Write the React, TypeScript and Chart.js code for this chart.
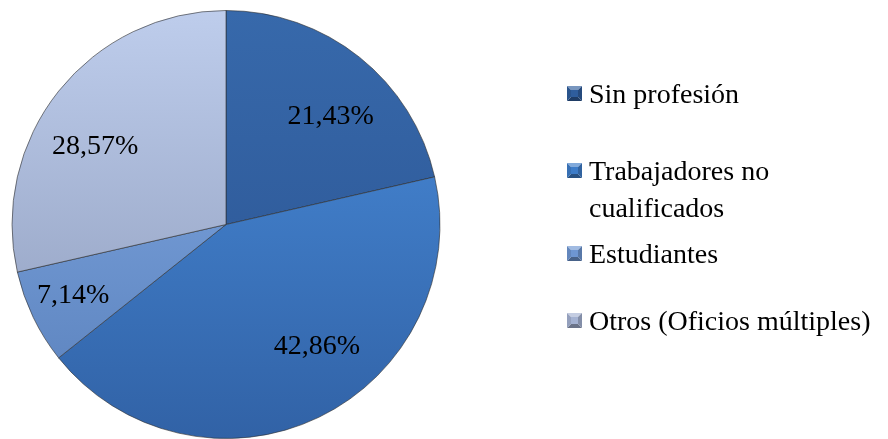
import React, { useEffect, useRef } from 'react';
import { Chart, registerables } from 'chart.js';

Chart.register(...registerables);

const categories = ['Sin profesión', 'Trabajadores no cualificados', 'Estudiantes', 'Otros (Oficios múltiples)'];
const values = [21.43, 42.86, 7.14, 28.57];
const valueLabels = ['21,43%', '42,86%', '7,14%', '28,57%'];

const colorTop = ['#3769AB', '#4A8EDD', '#86AEE8', '#BECDEC'];
const colorBottom = ['#2A5290', '#3162A6', '#587FBA', '#8A98B8'];
const colorMid = ['#2F5D9C', '#3D7CC8', '#6E96D2', '#A4B2D2'];

const FONT = '28px "Liberation Serif", "Times New Roman", serif';

// best-fit label nudges (px) relative to the mid-angle anchor
const labelNudge = [[10, 11], [25, -15], [-16, 5], [-12, 17]];

const sliceLabelPlugin = {
  id: 'sliceLabels',
  afterDatasetsDraw(chart: any) {
    const ctx = chart.ctx;
    const meta = chart.getDatasetMeta(0);
    ctx.save();
    ctx.font = FONT;
    ctx.fillStyle = '#000';
    ctx.textAlign = 'center';
    ctx.textBaseline = 'middle';
    meta.data.forEach((arc: any, i: number) => {
      const p = arc.getProps(['x', 'y', 'startAngle', 'endAngle', 'outerRadius'], true);
      const mid = (p.startAngle + p.endAngle) / 2;
      const r = p.outerRadius * 0.71;
      const n = labelNudge[i];
      ctx.fillText(valueLabels[i], p.x + Math.cos(mid) * r + n[0], p.y + Math.sin(mid) * r + n[1]);
    });
    ctx.restore();
  },
};

function wrap(ctx: CanvasRenderingContext2D, text: string, maxW: number): string[] {
  const words = text.split(' ');
  const lines: string[] = [];
  let cur = '';
  for (const w of words) {
    const test = cur ? cur + ' ' + w : w;
    if (ctx.measureText(test).width > maxW && cur) {
      lines.push(cur);
      cur = w;
    } else cur = test;
  }
  if (cur) lines.push(cur);
  return lines;
}

function shade(hex: string, amt: number): string {
  const n = parseInt(hex.slice(1), 16);
  let r = (n >> 16) & 255, g = (n >> 8) & 255, b = n & 255;
  const t = amt < 0 ? 0 : 255;
  const a = Math.abs(amt);
  r = Math.round(r + (t - r) * a);
  g = Math.round(g + (t - g) * a);
  b = Math.round(b + (t - b) * a);
  return `rgb(${r},${g},${b})`;
}

const legendPlugin = {
  id: 'customLegend',
  afterDraw(chart: any) {
    const ctx = chart.ctx;
    const baselines = [103, 180, 263, 330];
    const markerX = 567;
    const textX = 589;
    const lineH = 37;
    const s = 15;
    ctx.save();
    ctx.font = FONT;
    ctx.fillStyle = '#000';
    ctx.textAlign = 'left';
    ctx.textBaseline = 'alphabetic';
    categories.forEach((label, i) => {
      const base = baselines[i];
      const my = base - 17;
      const c = colorMid[i];
      const x0 = markerX, y0 = my, x1 = markerX + s, y1 = my + s;
      const b = 4;
      const poly = (pts: number[][], col: string) => {
        ctx.beginPath();
        ctx.moveTo(pts[0][0], pts[0][1]);
        for (let k = 1; k < pts.length; k++) ctx.lineTo(pts[k][0], pts[k][1]);
        ctx.closePath();
        ctx.fillStyle = col;
        ctx.fill();
      };
      poly([[x0, y0], [x1, y0], [x1 - b, y0 + b], [x0 + b, y0 + b]], shade(c, 0.35));
      poly([[x0, y1], [x1, y1], [x1 - b, y1 - b], [x0 + b, y1 - b]], shade(c, -0.35));
      poly([[x0, y0], [x0 + b, y0 + b], [x0 + b, y1 - b], [x0, y1]], shade(c, -0.1));
      poly([[x1, y0], [x1 - b, y0 + b], [x1 - b, y1 - b], [x1, y1]], shade(c, -0.2));
      ctx.fillStyle = c;
      ctx.fillRect(x0 + b, y0 + b, s - 2 * b, s - 2 * b);
      ctx.fillStyle = '#000';
      const lines = wrap(ctx, label, 295);
      lines.forEach((ln, k) => ctx.fillText(ln, textX, base + k * lineH));
    });
    ctx.restore();
  },
};

export default function App() {
  const ref = useRef<HTMLCanvasElement>(null);
  useEffect(() => {
    document.body.style.margin = '0';
    const canvas = ref.current!;
    const chart = new Chart(canvas, {
      type: 'pie',
      data: {
        labels: categories,
        datasets: [
          {
            data: values,
            backgroundColor: (c: any) => {
              const area = c.chart.chartArea;
              const i = c.dataIndex;
              if (!area) return colorMid[i];
              const g = c.chart.ctx.createLinearGradient(0, area.top, 0, area.bottom);
              g.addColorStop(0, colorTop[i]);
              g.addColorStop(1, colorBottom[i]);
              return g;
            },
            borderColor: 'rgba(45,45,45,0.6)',
            borderWidth: 1,
          },
        ],
      },
      options: {
        responsive: false,
        animation: false,
        devicePixelRatio: 1,
        layout: { padding: { left: 11, right: 447, top: 10, bottom: -2 } },
        plugins: {
          legend: { display: false },
          tooltip: { enabled: false },
        },
      },
      plugins: [sliceLabelPlugin, legendPlugin],
    });
    return () => chart.destroy();
  }, []);
  return (
    <div style={{ width: 888, height: 439, background: '#fff' }}>
      <canvas ref={ref} width={888} height={439} />
    </div>
  );
}
